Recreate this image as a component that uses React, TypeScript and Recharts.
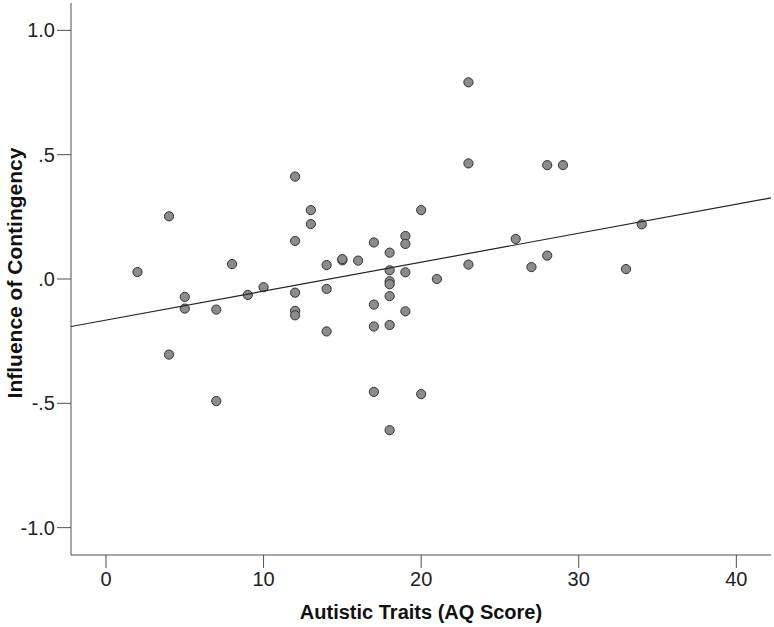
import React from 'react';
import { ComposedChart, Scatter, XAxis, YAxis } from 'recharts';

// AQ score for each participant
const aqScores = [
  2, 4, 4, 5, 5, 7, 7, 8, 9, 10,
  12, 12, 12, 12, 12, 13, 13, 14, 14, 14,
  15, 15, 16, 17, 17, 17, 17, 18, 18, 18,
  18, 18, 18, 18, 19, 19, 19, 19, 20, 20,
  21, 23, 23, 23, 26, 27, 28, 28, 29, 33, 34,
];

// influence of contingency for each participant
const influence = [
  0.028, 0.252, -0.304, -0.072, -0.119, -0.123, -0.491, 0.06, -0.064, -0.033,
  0.412, 0.153, -0.055, -0.128, -0.146, 0.277, 0.221, 0.056, -0.04, -0.211,
  0.075, 0.08, 0.074, 0.147, -0.103, -0.191, -0.454, 0.106, 0.035, -0.009,
  -0.021, -0.069, -0.185, -0.608, 0.173, 0.141, 0.027, -0.13, 0.277, -0.463,
  0.0, 0.791, 0.465, 0.058, 0.161, 0.048, 0.458, 0.094, 0.458, 0.04, 0.22,
];

// fit line endpoints (at the edges of the x range)
const fitX = [-2.22, 42.2];
const fitY = [-0.191, 0.326];

const xTicks = [0, 10, 20, 30, 40];
const yTicks = [-1, -0.5, 0, 0.5, 1];

const points = aqScores.map((x, i) => ({ x, y: influence[i] }));
const fitLine = fitX.map((x, i) => ({ x, y: fitY[i] }));

const axisColor = '#505050';
const font = 'Arial, "Liberation Sans", sans-serif';

const fmtY = (v: number) => {
  if (v === 0) return '.0';
  if (Math.abs(v) === 1) return v.toFixed(1);
  return (v < 0 ? '-' : '') + '.5';
};

const Dot = (props: any) => {
  const { cx, cy } = props;
  if (cx == null || cy == null) return null;
  return <circle cx={cx} cy={cy} r={4.6} fill="#8c8c8c" stroke="#333" strokeWidth={1} />;
};

export default function App() {
  return (
    <div style={{ position: 'absolute', left: 0, top: 0, background: '#fff' }}>
      <ComposedChart
        width={774}
        height={627}
        margin={{ top: 3, right: 3, bottom: 0, left: 0 }}
      >
        <XAxis
          type="number"
          dataKey="x"
          domain={[-2.22, 42.2]}
          ticks={xTicks}
          allowDataOverflow
          height={72}
          tickSize={13}
          tickMargin={4}
          stroke={axisColor}
          tick={{ fill: '#222', fontSize: 20, fontFamily: font }}
          label={{
            content: () => (
              <text x={421} y={619} textAnchor="middle" fontSize={20} fontWeight="bold" fontFamily={font} fill="#111">
                Autistic Traits (AQ Score)
              </text>
            ),
          }}
        />
        <YAxis
          type="number"
          dataKey="y"
          domain={[-1.11, 1.11]}
          ticks={yTicks}
          allowDataOverflow
          width={71}
          tickSize={14}
          tickMargin={2}
          stroke={axisColor}
          tickFormatter={fmtY}
          tick={{ fill: '#222', fontSize: 20, fontFamily: font }}
          label={{
            content: () => (
              <text
                x={21.5}
                y={273}
                textAnchor="middle"
                fontSize={21}
                fontWeight="bold"
                fontFamily={font}
                fill="#111"
                transform="rotate(-90, 21.5, 273)"
              >
                Influence of Contingency
              </text>
            ),
          }}
        />
        <Scatter data={points} shape={<Dot />} isAnimationActive={false} />
        <Scatter
          data={fitLine}
          line={{ stroke: '#222', strokeWidth: 1.2 }}
          shape={() => null}
          isAnimationActive={false}
        />
      </ComposedChart>
    </div>
  );
}
